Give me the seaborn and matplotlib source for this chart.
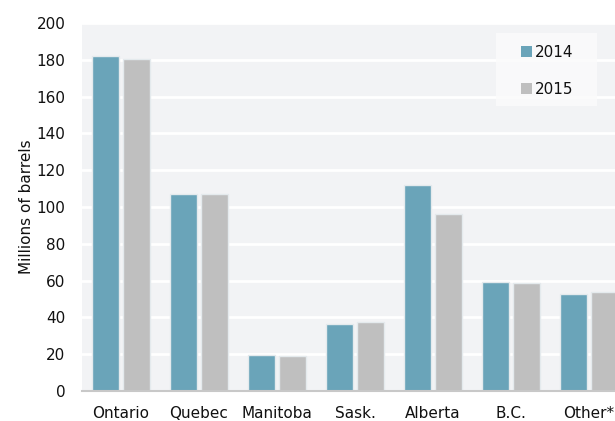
import numpy as np
import pandas as pd
import matplotlib
matplotlib.use("Agg")
import matplotlib.pyplot as plt
import seaborn as sns
from matplotlib.patches import Patch, Rectangle

provinces = ["Ontario", "Quebec", "Manitoba", "Sask.", "Alberta", "B.C.", "Other*"]
years = ["2014", "2015"]
values_2014 = [181.8, 107.3, 19.5, 36.5, 111.8, 59.3, 52.8]
values_2015 = [180.6, 106.8, 19.1, 37.6, 96.0, 58.6, 53.6]
yticks = [0, 20, 40, 60, 80, 100, 120, 140, 160, 180, 200]
colors = ["#6aa4b9", "#bfbfbf"]

df = pd.DataFrame({
    "province": provinces * 2,
    "year": [years[0]] * len(provinces) + [years[1]] * len(provinces),
    "value": values_2014 + values_2015,
})

sns.set_theme(style="white")
plt.rcParams["font.family"] = ["DejaVu Sans"]

W, H = 615, 421
fig = plt.figure(figsize=(W / 100, H / 100), dpi=100)
ax = fig.add_axes([82 / W, 1 - 391 / H, 1 - 82 / W, (391 - 23) / H])
ax.set_facecolor("#f2f3f5")

sns.barplot(data=df, x="province", y="value", hue="year", order=provinces,
            hue_order=years, palette=colors, saturation=1, width=0.8, gap=0.15,
            edgecolor="#e4eaed", linewidth=1.0, ax=ax, legend=False, zorder=3)

ax.set_yticks(yticks)
ax.set_xticks(np.arange(-0.5, len(provinces), 1), minor=True)
ax.set_ylim(0, 200)
ax.set_xlim(-0.5, -0.5 + (W - 82) / 78)
ax.yaxis.grid(True, color="white", linewidth=2.0, zorder=1)
ax.set_axisbelow(True)
for s in ["top", "right", "left"]:
    ax.spines[s].set_visible(False)
ax.spines["bottom"].set_color("#c8c8c8")
ax.spines["bottom"].set_linewidth(1.5)
ax.spines["bottom"].set_zorder(4)

ax.tick_params(axis="x", which="minor", length=5, width=1.2, color="#c8c8c8", direction="out")
ax.tick_params(axis="x", which="major", length=0, pad=11, labelsize=11, labelcolor="#111111")
ax.tick_params(axis="y", length=0, pad=12, labelsize=11, labelcolor="#111111")
ax.set_xlabel("")
ax.set_ylabel("Millions of barrels", fontsize=11, color="#111111", labelpad=2)

# legend background box
ax.add_patch(Rectangle((496 / W, 1 - 106 / H), 101 / W, 73 / H,
                       transform=fig.transFigure, facecolor="#fbfbfb",
                       edgecolor="none", alpha=0.85, zorder=5, clip_on=False))
handles = [Patch(facecolor=c, edgecolor="none") for c in colors]
leg = ax.legend(handles, years, loc="upper left",
                bbox_to_anchor=(521 / W, 1 - 45 / H), bbox_transform=fig.transFigure,
                frameon=False, fontsize=11, labelspacing=1.45, handlelength=0.7,
                handleheight=0.7, handletextpad=0.2, borderpad=0,
                borderaxespad=0)
leg.set_zorder(6)
for t in leg.get_texts():
    t.set_color("#111111")

fig.savefig("out.png", dpi=100)
